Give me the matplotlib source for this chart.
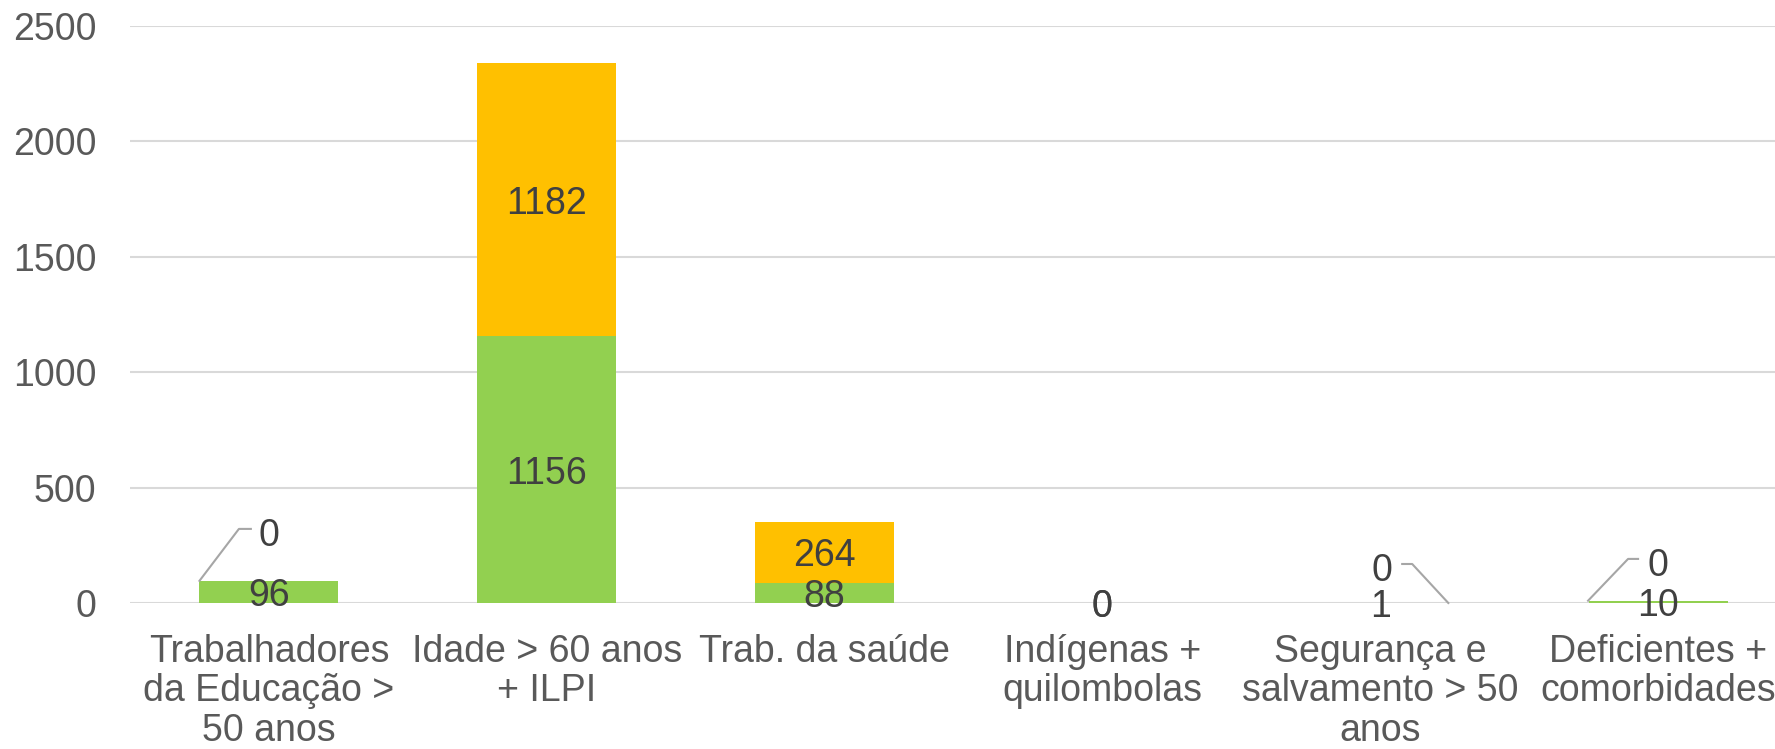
import numpy as np
from matplotlib import pyplot as plt

plt.rcParams['font.family'] = ['Liberation Sans', 'DejaVu Sans']

categorias = ["Trabalhadores\nda Educação >\n50 anos", "Idade > 60 anos\n+ ILPI",
              "Trab. da saúde", "Indígenas +\nquilombolas",
              "Segurança e\nsalvamento > 50\nanos", "Deficientes +\ncomorbidades"]
dose1 = [96, 1156, 88, 0, 1, 10]   # verde (base)
dose2 = [0, 1182, 264, 0, 0, 0]    # laranja (topo)
yticks = [0, 500, 1000, 1500, 2000, 2500]

VERDE = '#92D050'
LARANJA = '#FFC000'
FS = 27

fig = plt.figure(figsize=(17.75, 7.49), dpi=100)
ax = fig.add_axes([130 / 1775, 146 / 749, 1667 / 1775, 577 / 749])

x = np.arange(len(categorias))
largura = 0.5
ax.bar(x, dose1, largura, color=VERDE, zorder=3)
ax.bar(x, dose2, largura, bottom=dose1, color=LARANJA, zorder=3)

ax.set_xlim(-0.5, len(categorias) - 0.5)
ax.set_ylim(0, 2500)
ax.set_yticks(yticks)
ax.set_xticks(x)
ax.set_xticklabels(categorias, fontsize=FS, color='#595959', linespacing=1.13)
ax.tick_params(axis='y', labelsize=FS, colors='#595959', length=0, pad=24)
ax.tick_params(axis='x', length=0, pad=22)
ax.grid(axis='y', color='#D9D9D9', linewidth=1.5, zorder=0)
for s in ax.spines.values():
    s.set_visible(False)

# rótulos de dados: dentro dos segmentos, ou com linha de chamada quando 0
# (posições das chamadas: ancora, cotovelo, fim da linha, texto)
chamadas = {
    0: ((-0.25, 96), (-0.108, 321), (-0.065, 321), (0.0, 308)),
    4: ((4.245, 0), (4.115, 169), (4.079, 169), (4.007, 156)),
    5: ((4.748, 10), (4.892, 191), (4.928, 191), (5.0, 178)),
}
for i in x:
    ax.text(i, dose1[i] / 2, str(dose1[i]), ha='center', va='center_baseline',
            fontsize=FS, color='#404040', zorder=4)
    if i in chamadas:
        a, b, c, t = chamadas[i]
        ax.plot([a[0], b[0], c[0]], [a[1], b[1], c[1]], color='#A6A6A6',
                linewidth=1.5, zorder=4, clip_on=False)
        ax.text(t[0], t[1], str(dose2[i]), ha='center', va='center_baseline',
                fontsize=FS, color='#404040', zorder=4)
    else:
        ax.text(i, dose1[i] + dose2[i] / 2, str(dose2[i]), ha='center',
                va='center_baseline', fontsize=FS, color='#404040', zorder=4)

fig.savefig('out.png', dpi=100)
